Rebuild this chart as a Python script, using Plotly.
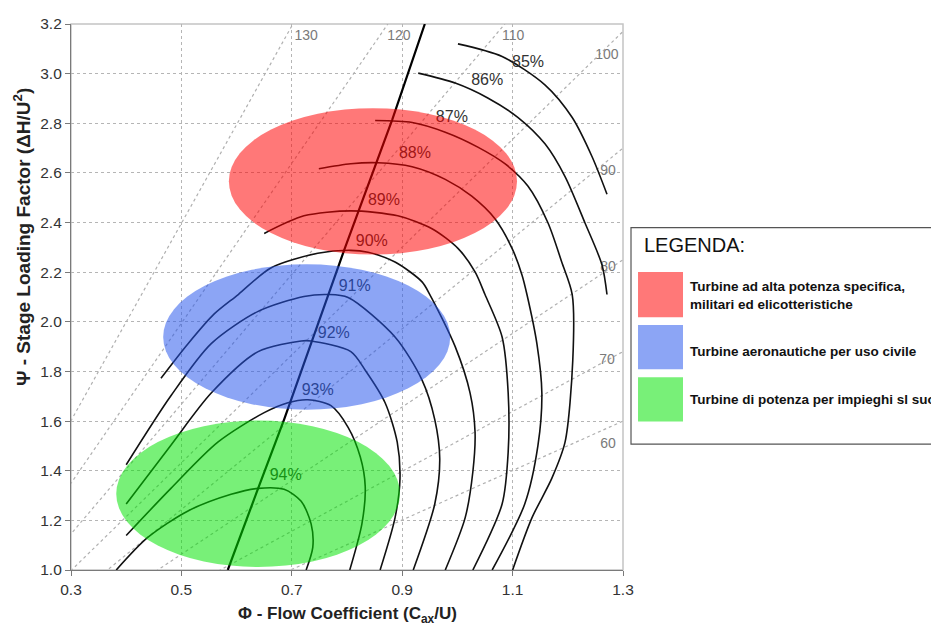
import plotly.graph_objects as go

# ---------------- data ----------------
x_ticks = [0.3, 0.5, 0.7, 0.9, 1.1, 1.3]
y_ticks = [1.0, 1.2, 1.4, 1.6, 1.8, 2.0, 2.2, 2.4, 2.6, 2.8, 3.0, 3.2]

eff_labels = ["85%", "86%", "87%", "88%", "89%", "90%", "91%", "92%", "93%", "94%"]

phi_85 = [1.001, 1.081, 1.159, 1.208, 1.244, 1.271]
psi_85 = [3.120, 3.069, 2.954, 2.823, 2.665, 2.514]

phi_86 = [0.929, 0.996, 1.055, 1.110, 1.159, 1.195, 1.231, 1.262, 1.271]
psi_86 = [3.002, 2.962, 2.902, 2.823, 2.716, 2.585, 2.399, 2.229, 2.110]

phi_87 = [0.851, 0.918, 0.978, 1.037, 1.086, 1.128, 1.164, 1.189, 1.208, 1.209, 1.195, 1.171, 1.135, 1.100]
psi_87 = [2.811, 2.803, 2.764, 2.704, 2.637, 2.546, 2.399, 2.241, 2.110, 1.844, 1.515, 1.369, 1.210, 1.000]

phi_88 = [0.749, 0.807, 0.856, 0.918, 0.978, 1.026, 1.068, 1.099, 1.117, 1.126, 1.144, 1.153, 1.146, 1.122, 1.063]
psi_88 = [2.617, 2.637, 2.641, 2.625, 2.574, 2.506, 2.415, 2.296, 2.189, 2.110, 1.912, 1.713, 1.503, 1.266, 1.000]

phi_89 = [0.650, 0.722, 0.807, 0.892, 0.954, 1.001, 1.032, 1.050, 1.081, 1.092, 1.092, 1.081, 1.028]
psi_89 = [2.356, 2.427, 2.447, 2.427, 2.375, 2.296, 2.201, 2.110, 1.939, 1.713, 1.476, 1.266, 1.000]

phi_90 = [0.463, 0.512, 0.559, 0.603, 0.662, 0.747, 0.807, 0.838, 0.887, 0.936, 0.950, 0.996, 1.023, 1.032, 1.028, 1.014, 0.978]
psi_90 = [1.773, 1.912, 2.031, 2.110, 2.217, 2.276, 2.288, 2.280, 2.241, 2.161, 2.110, 1.900, 1.713, 1.555, 1.396, 1.210, 1.000]

phi_91 = [0.400, 0.481, 0.554, 0.639, 0.722, 0.766, 0.802, 0.887, 0.936, 0.959, 0.968, 0.959, 0.920]
psi_91 = [1.424, 1.702, 1.912, 2.042, 2.102, 2.110, 2.098, 1.939, 1.765, 1.606, 1.448, 1.266, 1.000]

phi_92 = [0.400, 0.481, 0.554, 0.639, 0.717, 0.735, 0.807, 0.833, 0.869, 0.891, 0.896, 0.887, 0.860]
psi_92 = [1.266, 1.503, 1.713, 1.880, 1.923, 1.923, 1.880, 1.805, 1.674, 1.515, 1.369, 1.210, 1.000]

phi_93 = [0.400, 0.481, 0.566, 0.650, 0.693, 0.729, 0.771, 0.802, 0.824, 0.833, 0.827, 0.805]
psi_93 = [1.139, 1.329, 1.515, 1.634, 1.674, 1.686, 1.662, 1.575, 1.456, 1.337, 1.186, 1.000]

phi_94 = [0.382, 0.439, 0.512, 0.590, 0.639, 0.686, 0.717, 0.735, 0.738, 0.726]
psi_94 = [1.000, 1.131, 1.238, 1.305, 1.329, 1.325, 1.277, 1.186, 1.091, 1.000]

eff_phi = [phi_85, phi_86, phi_87, phi_88, phi_89, phi_90, phi_91, phi_92, phi_93, phi_94]
eff_psi = [psi_85, psi_86, psi_87, psi_88, psi_89, psi_90, psi_91, psi_92, psi_93, psi_94]

eff_label_phi = [1.128, 1.054, 0.990, 0.923, 0.867, 0.845, 0.814, 0.776, 0.747, 0.689]
eff_label_psi = [3.041, 2.970, 2.823, 2.677, 2.486, 2.320, 2.141, 1.951, 1.721, 1.377]

opt_phi = [0.941, 0.882, 0.796, 0.766, 0.686, 0.639, 0.584]
opt_psi = [3.200, 2.815, 2.296, 2.110, 1.606, 1.329, 1.000]

angle_labels = ["130", "120", "110", "100", "90", "80", "70", "60"]
angle_origin_phi = -0.035
angle_origin_psi = 0.27
angle_end_phi = [0.702, 0.874, 1.086, 1.300, 1.300, 1.300, 1.300, 1.300]
angle_end_psi = [3.200, 3.200, 3.200, 3.170, 2.700, 2.250, 1.880, 1.600]
angle_label_phi = [0.726, 0.894, 1.101, 1.271, 1.273, 1.273, 1.271, 1.273]
angle_label_psi = [3.148, 3.148, 3.148, 3.073, 2.605, 2.217, 1.844, 1.507]

regions = ["Turbine ad alta potenza specifica,<br>militari ed elicotteristiche",
           "Turbine aeronautiche per uso civile",
           "Turbine di potenza per impieghi sl suolo"]
region_colors = ["rgb(255,0,0)", "rgb(38,85,236)", "rgb(0,226,0)"]
region_phi0 = [0.586, 0.467, 0.382]
region_phi1 = [1.108, 0.987, 0.896]
region_psi0 = [2.271, 1.646, 1.012]
region_psi1 = [2.861, 2.232, 1.602]
region_alpha = 0.53

FONT = "Arial, Liberation Sans, sans-serif"

fig = go.Figure()

# angle lines (dotted grey)
for ep, es in zip(angle_end_phi, angle_end_psi):
    fig.add_trace(go.Scatter(
        x=[angle_origin_phi, ep], y=[angle_origin_psi, es], mode="lines",
        line=dict(color="#b0b0b0", width=1.2, dash="dot"),
        hoverinfo="skip", showlegend=False))

fig.add_trace(go.Scatter(
    x=angle_label_phi, y=angle_label_psi, text=angle_labels, mode="text",
    textfont=dict(family=FONT, size=14, color="#7a7a7a"),
    hoverinfo="skip", showlegend=False))

# efficiency contours
for ph, ps in zip(eff_phi, eff_psi):
    fig.add_trace(go.Scatter(
        x=ph, y=ps, mode="lines",
        line=dict(color="#111111", width=1.6, shape="spline", smoothing=0.8),
        hoverinfo="skip", showlegend=False))

# optimum line
fig.add_trace(go.Scatter(
    x=opt_phi, y=opt_psi, mode="lines",
    line=dict(color="#000000", width=2.2),
    hoverinfo="skip", showlegend=False))

fig.add_trace(go.Scatter(
    x=eff_label_phi, y=eff_label_psi, text=eff_labels, mode="text",
    textfont=dict(family=FONT, size=16, color="#333333"),
    hoverinfo="skip", showlegend=False))

shapes = []
# plot frame (top/right light grey)
shapes.append(dict(type="rect", xref="paper", yref="paper", x0=0, x1=1, y0=0, y1=1,
                   line=dict(color="#c4c4c4", width=1.5), layer="below"))
# region ellipses (semi-transparent, above curves)
for c, a0, a1, b0, b1 in zip(region_colors, region_phi0, region_phi1, region_psi0, region_psi1):
    shapes.append(dict(type="circle", xref="x", yref="y", x0=a0, x1=a1, y0=b0, y1=b1,
                       fillcolor=c, opacity=region_alpha, line=dict(width=0), layer="above"))

# legend box
shapes.append(dict(type="rect", xref="paper", yref="paper", x0=1.0145, x1=1.75, y0=0.2306, y1=0.627,
                   line=dict(color="#555555", width=1.2), fillcolor="white", layer="above"))
sw_y0 = [0.463, 0.3676, 0.272]
sw_y1 = [0.546, 0.4486, 0.353]
for c, y0, y1 in zip(region_colors, sw_y0, sw_y1):
    shapes.append(dict(type="rect", xref="paper", yref="paper", x0=1.0272, x1=1.1087, y0=y0, y1=y1,
                       fillcolor=c, opacity=region_alpha, line=dict(width=0), layer="above"))

annotations = []
annotations.append(dict(xref="paper", yref="paper", x=1.0344, y=0.5946, xanchor="left", yanchor="middle",
                        text="LEGENDA:", showarrow=False,
                        font=dict(family=FONT, size=20, color="#111111")))
item_y = [0.5027, 0.400, 0.3117]
for t, yy in zip(regions, item_y):
    annotations.append(dict(xref="paper", yref="paper", x=1.1178, y=yy, xanchor="left", yanchor="middle",
                            text="<b>" + t + "</b>", showarrow=False, align="left",
                            font=dict(family=FONT, size=13.5, color="#111111")))

# axis titles
annotations.append(dict(xref="paper", yref="paper", x=0.5, y=-0.082, xanchor="center", yanchor="middle",
                        text="<b>Φ - Flow Coefficient (C<sub>ax</sub>/U)</b>", showarrow=False,
                        font=dict(family=FONT, size=17, color="#222222")))
annotations.append(dict(xref="paper", yref="paper", x=-0.0888, y=0.61, xanchor="center", yanchor="middle",
                        text="<b>Ψ - Stage Loading Factor (ΔH/U<sup>2</sup>)</b>", showarrow=False,
                        textangle=-90, font=dict(family=FONT, size=19, color="#222222")))

fig.update_layout(
    width=931, height=620,
    margin=dict(l=63, r=316, t=7, b=58),
    paper_bgcolor="white", plot_bgcolor="white",
    shapes=shapes, annotations=annotations,
    font=dict(family=FONT),
    xaxis=dict(range=[0.3, 1.3], tickvals=x_ticks, ticktext=[f"{v:.1f}" for v in x_ticks],
               showgrid=True, gridcolor="#b5b5b5", griddash="dot", gridwidth=1,
               showline=True, linecolor="#7a7a7a", linewidth=1.2,
               ticks="outside", ticklen=5, tickcolor="#7a7a7a", ticklabeloverflow="allow",
               zeroline=False, tickfont=dict(family=FONT, size=15.5, color="#333333")),
    yaxis=dict(range=[1.0, 3.2], tickvals=y_ticks, ticktext=[f"{v:.1f}" for v in y_ticks],
               showgrid=True, gridcolor="#b5b5b5", griddash="dot", gridwidth=1,
               showline=True, linecolor="#7a7a7a", linewidth=1.2,
               ticks="outside", ticklen=5, tickcolor="#7a7a7a", ticklabeloverflow="allow",
               zeroline=False, tickfont=dict(family=FONT, size=15.5, color="#333333")),
)

fig.write_html("out.html")
